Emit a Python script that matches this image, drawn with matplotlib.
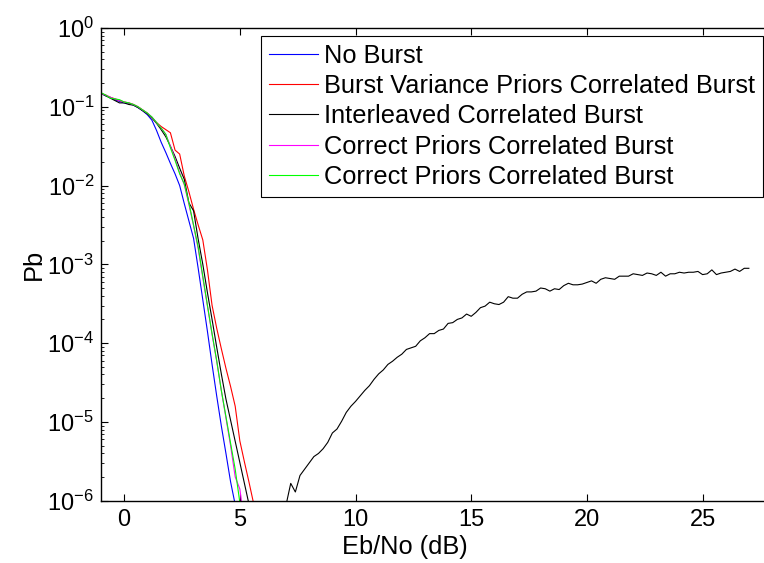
import numpy as np
import matplotlib
matplotlib.use("Agg")
import matplotlib.pyplot as plt
import matplotlib.ticker as mticker

plt.rcParams["font.family"] = ["Liberation Sans", "DejaVu Sans"]
plt.rcParams["mathtext.fontset"] = "custom"
plt.rcParams["mathtext.rm"] = "Liberation Sans"
plt.rcParams["mathtext.default"] = "regular"

# ---------------------------------------------------------------------------
# Data
# ---------------------------------------------------------------------------
eb_low = [-1.0, -0.8, -0.6, -0.4, -0.2, 0.0, 0.2, 0.4, 0.6, 0.8,
          1.0, 1.2, 1.4, 1.6, 1.8, 2.0, 2.2, 2.4, 2.6, 2.8,
          3.0, 3.2, 3.4, 3.6, 3.8, 4.0, 4.2, 4.4, 4.6, 4.8,
          5.0, 5.2, 5.4, 5.6]

pb_no_burst = [0.148, 0.138, 0.132, 0.123, 0.117, 0.112, 0.110, 0.105, 0.0977, 0.0891,
               0.0794, 0.0676, 0.0501, 0.0355, 0.0263, 0.0191, 0.0141, 0.0100, 0.00589, 0.00355,
               0.00214, 8.91e-4, 3.55e-4, 1.41e-4, 5.37e-5, 2.14e-5, 8.91e-6, 3.98e-6, 1.74e-6, 8.9e-7]

pb_burst_var = [0.148, 0.141, 0.132, 0.126, 0.120, 0.115, 0.112, 0.107, 0.100, 0.0912,
                0.0832, 0.0724, 0.0631, 0.0562, 0.0513, 0.0468, 0.0282, 0.0251, 0.0132, 0.00832,
                0.00501, 0.00316, 0.00204, 8.51e-4, 3.02e-4, 1.55e-4, 8.51e-5, 4.79e-5, 2.82e-5, 1.58e-5,
                5.75e-6, 3.09e-6, 1.70e-6, 9.1e-7]

pb_interleaved_low = [0.148, 0.138, 0.129, 0.120, 0.112, 0.112, 0.107, 0.105, 0.0977, 0.0891,
                      0.0813, 0.0724, 0.0617, 0.0513, 0.0417, 0.0316, 0.0234, 0.0166, 0.0120, 0.00603,
                      0.00479, 0.00209, 0.00100, 4.37e-4, 2.00e-4, 8.91e-5, 4.07e-5, 1.95e-5, 1.05e-5, 5.62e-6,
                      3.02e-6, 1.62e-6, 8.9e-7]

pb_correct_m = [0.148, 0.141, 0.132, 0.126, 0.120, 0.115, 0.112, 0.107, 0.100, 0.0912,
                0.0832, 0.0741, 0.0631, 0.0537, 0.0447, 0.0316, 0.0219, 0.0145, 0.0102, 0.00575,
                0.00309, 0.00158, 6.76e-4, 2.95e-4, 1.29e-4, 5.89e-5, 2.51e-5, 1.12e-5, 5.01e-6, 2.00e-6,
                1.41e-6, 5.0e-7]

pb_correct_g = [0.151, 0.141, 0.129, 0.126, 0.123, 0.115, 0.112, 0.107, 0.100, 0.0912,
                0.0832, 0.0741, 0.0631, 0.0537, 0.0447, 0.0302, 0.0209, 0.0141, 0.0105, 0.00603,
                0.00316, 0.00166, 7.08e-4, 3.02e-4, 1.32e-4, 6.03e-5, 2.51e-5, 1.17e-5, 5.37e-6, 2.51e-6,
                9.5e-7]

# interleaved curve comes back above 1e-6 from 7 dB on
eb_high = np.round(np.arange(7.0, 27.01, 0.2), 1)
pb_interleaved_high = [8.9e-7, 1.66e-6, 1.29e-6, 2.09e-6, 2.51e-6, 3.02e-6, 3.63e-6, 3.98e-6, 4.57e-6, 5.50e-6,
                       7.24e-6, 8.13e-6, 1.02e-5, 1.32e-5, 1.58e-5, 1.82e-5, 2.14e-5, 2.51e-5, 2.88e-5, 3.47e-5,
                       4.07e-5, 4.57e-5, 5.37e-5, 5.89e-5, 6.61e-5, 7.24e-5, 8.32e-5, 8.71e-5, 9.12e-5, 1.07e-4,
                       1.17e-4, 1.32e-4, 1.32e-4, 1.45e-4, 1.51e-4, 1.78e-4, 1.82e-4, 2.00e-4, 2.09e-4, 2.34e-4,
                       2.19e-4, 2.45e-4, 2.82e-4, 2.95e-4, 3.31e-4, 3.16e-4, 3.09e-4, 3.31e-4, 3.89e-4, 3.72e-4,
                       3.72e-4, 4.17e-4, 4.47e-4, 4.47e-4, 4.57e-4, 5.01e-4, 4.90e-4, 4.57e-4, 4.90e-4, 4.79e-4,
                       5.37e-4, 5.75e-4, 5.50e-4, 5.50e-4, 5.62e-4, 5.89e-4, 6.17e-4, 5.75e-4, 6.46e-4, 6.76e-4,
                       6.61e-4, 6.46e-4, 7.08e-4, 7.08e-4, 7.08e-4, 7.59e-4, 7.41e-4, 7.24e-4, 7.76e-4, 7.59e-4,
                       7.24e-4, 7.94e-4, 7.08e-4, 7.59e-4, 7.59e-4, 7.94e-4, 7.76e-4, 7.94e-4, 7.94e-4, 8.13e-4,
                       7.41e-4, 7.59e-4, 8.51e-4, 7.41e-4, 7.76e-4, 7.94e-4, 8.13e-4, 8.71e-4, 8.13e-4, 8.91e-4,
                       8.91e-4]

labels = ["No Burst",
          "Burst Variance Priors Correlated Burst",
          "Interleaved Correlated Burst",
          "Correct Priors Correlated Burst",
          "Correct Priors Correlated Burst"]

# ---------------------------------------------------------------------------
# Plot
# ---------------------------------------------------------------------------
fig = plt.figure(figsize=(7.64, 5.63), dpi=100)
ax = fig.add_axes([101 / 764, 1 - 500.7 / 563, 671 / 764, 472.7 / 563])

LW = 0.8
eb_black = np.concatenate([eb_low[:len(pb_interleaved_low)], [np.nan], eb_high])
pb_black = np.concatenate([pb_interleaved_low, [np.nan], pb_interleaved_high])

ax.plot(eb_low[:len(pb_no_burst)], pb_no_burst, color="#0000ff", lw=LW, label=labels[0])
ax.plot(eb_low[:len(pb_burst_var)], pb_burst_var, color="#ff0000", lw=LW, label=labels[1])
ax.plot(eb_black, pb_black, color="#000000", lw=LW, label=labels[2])
ax.plot(eb_low[:len(pb_correct_m)], pb_correct_m, color="#ff00ff", lw=LW, label=labels[3])
ax.plot(eb_low[:len(pb_correct_g)], pb_correct_g, color="#00ff00", lw=LW, label=labels[4])

ax.set_yscale("log")
ax.set_ylim(1e-6, 1e0)
ax.set_xlim(-1, 28)
ax.set_xticks([0, 5, 10, 15, 20, 25])
ax.yaxis.set_major_locator(mticker.LogLocator(base=10, numticks=10))
ax.yaxis.set_minor_locator(mticker.LogLocator(base=10, subs=np.arange(2, 10), numticks=10))
ax.yaxis.set_minor_formatter(mticker.NullFormatter())
ax.xaxis.set_minor_locator(mticker.NullLocator())

ax.tick_params(which="both", direction="in", top=True, right=True, labelsize=17)
ax.tick_params(which="major", length=5, width=0.8)
ax.tick_params(which="minor", length=2.5, width=0.6)
ax.tick_params(axis="x", pad=6)
ax.tick_params(axis="y", pad=5)
for s in ax.spines.values():
    s.set_linewidth(1.0)

ax.set_xlabel("Eb/No (dB)", fontsize=18.3)
ax.set_ylabel("Pb", fontsize=18.3)
ax.xaxis.set_label_coords((405 - 101) / 671, -0.072)
ax.yaxis.set_label_coords((46 - 101) / 671, 0.5)

leg = ax.legend(loc="upper right", bbox_to_anchor=(763 / 764, 1 - 36 / 563),
                bbox_transform=fig.transFigure, fontsize=18.3, frameon=True,
                fancybox=False, framealpha=1, edgecolor="black",
                handlelength=1.95, handletextpad=0.23, labelspacing=0.25,
                borderpad=0.3, borderaxespad=0)
leg.get_frame().set_linewidth(0.8)

fig.savefig("out.png", dpi=100)
